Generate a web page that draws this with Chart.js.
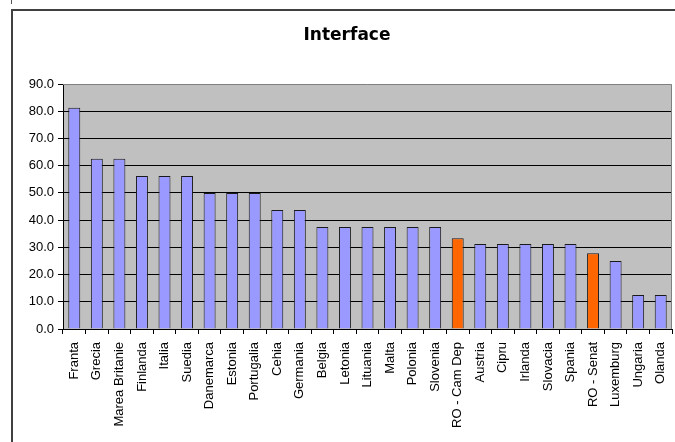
<!DOCTYPE html>
<html lang="ro">

<head>
	<meta charset="utf-8">
	<script src="https://cdn.jsdelivr.net/npm/chart.js"></script>
	<title>Interface</title>
	<style>
		body { margin: 0; background: #fff; }
		#wrap { position: relative; width: 675px; height: 442px; overflow: hidden; }
		#frame { position: absolute; left: 11px; top: 9px; width: 700px; height: 460px; border-left: 2px solid #404040; border-top: 2px solid #404040; }
		#mark { position: absolute; left: 11px; top: 0; width: 1px; height: 4px; background: #555; }
		#myChart { position: absolute; left: 0; top: 0; }
	</style>
</head>

<body>
	<div id="wrap">
		<div id="mark"></div>
		<div id="frame"></div>
		<canvas id="myChart" width="675" height="442"></canvas>
	</div>

	<script>
		// categories + values
		const labels = ['Franta', 'Grecia', 'Marea Britanie', 'Finlanda', 'Italia', 'Suedia', 'Danemarca', 'Estonia',
			'Portugalia', 'Cehia', 'Germania', 'Belgia', 'Letonia', 'Lituania', 'Malta', 'Polonia', 'Slovenia',
			'RO - Cam Dep', 'Austria', 'Cipru', 'Irlanda', 'Slovacia', 'Spania', 'RO - Senat', 'Luxemburg', 'Ungaria', 'Olanda'];
		const values = [81.25, 62.5, 62.5, 56.25, 56.25, 56.25, 50, 50,
			50, 43.75, 43.75, 37.5, 37.5, 37.5, 37.5, 37.5, 37.5,
			33.3, 31.25, 31.25, 31.25, 31.25, 31.25, 27.8, 25, 12.5, 12.5];
		const highlighted = ['RO - Cam Dep', 'RO - Senat'];
		const yTicks = [0, 10, 20, 30, 40, 50, 60, 70, 80, 90];

		const barColors = labels.map(l => highlighted.includes(l) ? '#FF6600' : '#9999FF');

		const plotBg = {
			id: 'plotBg',
			beforeDraw(chart) {
				const a = chart.chartArea;
				const ctx = chart.ctx;
				ctx.save();
				ctx.fillStyle = '#C0C0C0';
				ctx.fillRect(a.left, a.top, a.right - a.left, a.bottom - a.top);
				ctx.restore();
			},
			afterDraw(chart) {
				const a = chart.chartArea;
				const ctx = chart.ctx;
				ctx.save();
				ctx.strokeStyle = '#808080';
				ctx.lineWidth = 1;
				ctx.beginPath();
				ctx.moveTo(a.left, a.top + 0.5);
				ctx.lineTo(a.right - 0.5, a.top + 0.5);
				ctx.lineTo(a.right - 0.5, a.bottom);
				ctx.stroke();
				ctx.restore();
			}
		};

		Chart.defaults.font.family = '"Liberation Sans", Arial, sans-serif';
		Chart.defaults.color = '#000';

		const myChart = new Chart(document.getElementById('myChart'), {
			type: 'bar',
			data: {
				labels: labels,
				datasets: [{
					label: 'Interface',
					data: values,
					backgroundColor: barColors,
					borderColor: '#1a1a1a',
					borderWidth: 1,
					barPercentage: 0.53,
					categoryPercentage: 1
				}]
			},
			options: {
				responsive: false,
				animation: false,
				layout: { padding: { left: 22, right: 3, top: 0, bottom: 0 } },
				plugins: {
					legend: { display: false },
					tooltip: { enabled: false },
					title: {
						display: true,
						text: 'Interface',
						color: '#000',
						font: { family: '"DejaVu Sans", sans-serif', size: 17, weight: 'bold' },
						padding: { top: 25, bottom: 38.6 }
					}
				},
				scales: {
					x: {
						grid: { display: true, drawOnChartArea: false, color: '#000', tickLength: 5, offset: true },
						border: { color: '#000' },
						ticks: { minRotation: 90, maxRotation: 90, autoSkip: false, padding: 8, font: { size: 13 } },
						afterFit(scale) {
							scale.height = 113;
							scale.paddingLeft = 0;
							scale.paddingRight = 0;
						}
					},
					y: {
						min: 0,
						max: 90,
						afterBuildTicks(scale) { scale.ticks = yTicks.map(v => ({ value: v })); },
						grid: {
							color: ctx => ctx.tick && ctx.tick.value === 90 ? 'rgba(0,0,0,0)' : '#000',
							tickColor: '#000',
							tickLength: 5
						},
						border: { color: '#000' },
						ticks: { padding: 4, font: { size: 13 }, callback: v => Number(v).toFixed(1) },
						afterFit(scale) { scale.width = 41; }
					}
				}
			},
			plugins: [plotBg]
		});
	</script>
</body>
</html>
